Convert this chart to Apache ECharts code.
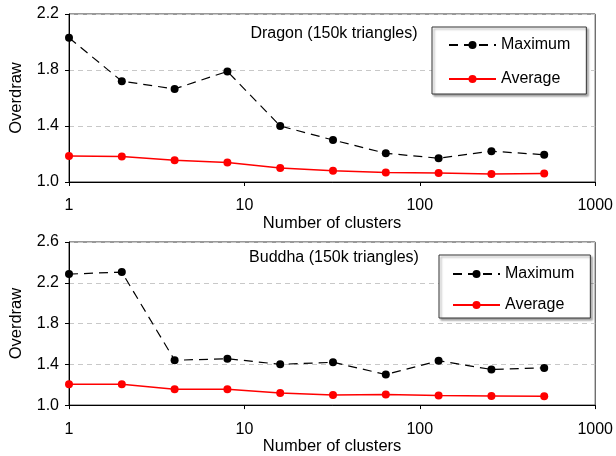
<!DOCTYPE html>
<html>
<head>
<meta charset="utf-8">
<script src="https://cdn.jsdelivr.net/npm/echarts@6/dist/echarts.min.js"></script>
<style>
  html, body { margin: 0; padding: 0; background: #fff; }
  #chart { width: 616px; height: 456px; }
</style>
</head>
<body>
<div id="chart"></div>
<script>
// number of clusters (x, log scale)
var clusters = [1, 2, 4, 8, 16, 32, 64, 128, 256, 512]

// Dragon (150k triangles)
var dragonMax = [2.03, 1.72, 1.665, 1.79, 1.40, 1.30, 1.205, 1.17, 1.22, 1.195]
var dragonAvg = [1.185, 1.182, 1.155, 1.14, 1.10, 1.08, 1.068, 1.065, 1.058, 1.06]

// Buddha (150k triangles)
var buddhaMax = [2.285, 2.305, 1.44, 1.455, 1.40, 1.42, 1.30, 1.435, 1.35, 1.365]
var buddhaAvg = [1.205, 1.205, 1.155, 1.155, 1.118, 1.10, 1.105, 1.093, 1.09, 1.087]

var titles = ['Dragon (150k triangles)', 'Buddha (150k triangles)']
var seriesNames = ['Maximum', 'Average']

var FONT = 'Liberation Sans'

function pairs (vals) {
  return clusters.map(function (c, i) { return [c, vals[i]] })
}

function xAxis (idx) {
  return {
    type: 'log',
    logBase: 10,
    min: 1,
    max: 1000,
    gridIndex: idx,
    name: 'Number of clusters',
    nameLocation: 'middle',
    nameGap: 26,
    nameTextStyle: { fontFamily: FONT, fontSize: 16.5, color: '#000' },
    axisLine: { lineStyle: { color: '#000', width: 1 } },
    axisTick: { length: 4, lineStyle: { color: '#000' } },
    minorTick: { show: false },
    splitLine: { show: false },
    axisLabel: {
      fontFamily: FONT, fontSize: 16, color: '#000', margin: 16,
      formatter: function (v) { return String(Math.round(v)) }
    }
  }
}

function yAxis (idx, max) {
  return {
    type: 'value',
    gridIndex: idx,
    min: 1.0,
    max: max,
    interval: 0.4,
    name: 'Overdraw',
    nameLocation: 'middle',
    nameGap: 44,
    nameTextStyle: { fontFamily: FONT, fontSize: 16.5, color: '#000' },
    axisLine: { show: true, lineStyle: { color: '#000', width: 1 } },
    axisTick: { show: true, length: 4, lineStyle: { color: '#000' } },
    splitLine: { show: true, lineStyle: { color: '#c8c8c8', type: [5, 4], width: 1 } },
    axisLabel: {
      fontFamily: FONT, fontSize: 16, color: '#000', margin: 10,
      formatter: function (v) { return v.toFixed(1) }
    }
  }
}

function legend (left, top, padding, gap) {
  return {
    orient: 'vertical',
    left: left,
    top: top,
    data: seriesNames,
    itemWidth: 47,
    itemHeight: 10,
    itemGap: gap,
    padding: padding,
    backgroundColor: '#fff',
    borderColor: '#333',
    borderWidth: 1,
    shadowColor: 'rgba(0,0,0,0.35)',
    shadowOffsetX: 2,
    shadowOffsetY: 2,
    shadowBlur: 2,
    textStyle: { fontFamily: FONT, fontSize: 16, color: '#000' }
  }
}

function maxSeries (idx, vals) {
  return {
    name: 'Maximum',
    type: 'line',
    xAxisIndex: idx,
    yAxisIndex: idx,
    data: pairs(vals),
    symbol: 'circle',
    symbolSize: 8,
    itemStyle: { color: '#000' },
    lineStyle: { color: '#000', width: 1.2, type: [9, 6] },
    animation: false
  }
}

function avgSeries (idx, vals) {
  return {
    name: 'Average',
    type: 'line',
    xAxisIndex: idx,
    yAxisIndex: idx,
    data: pairs(vals),
    symbol: 'circle',
    symbolSize: 8,
    itemStyle: { color: '#ff0000' },
    lineStyle: { color: '#ff0000', width: 1.5 },
    animation: false
  }
}

var myChart = echarts.init(document.getElementById('chart'))
var option = {
  animation: false,
  backgroundColor: '#fff',
  grid: [
    { left: 66, right: 18, top: 14, height: 168, show: true, borderColor: '#333', borderWidth: 1, backgroundColor: 'transparent' },
    { left: 66, right: 18, top: 242, height: 167, show: true, borderColor: '#333', borderWidth: 1, backgroundColor: 'transparent' }
  ],
  xAxis: [xAxis(0), xAxis(1)],
  yAxis: [yAxis(0, 2.2), yAxis(1, 2.6)],
  legend: [
    legend(432, 27, [10, 16, 7, 16], 18),
    legend(439, 255, [11, 16, 5, 13], 15)
  ],
  graphic: [
    { type: 'text', x: 334, y: 34, style: { text: titles[0], font: '16px "' + FONT + '"', fill: '#000', textAlign: 'center', textVerticalAlign: 'middle' } },
    { type: 'text', x: 334, y: 258, style: { text: titles[1], font: '16px "' + FONT + '"', fill: '#000', textAlign: 'center', textVerticalAlign: 'middle' } }
  ],
  series: [
    maxSeries(0, dragonMax),
    avgSeries(0, dragonAvg),
    maxSeries(1, buddhaMax),
    avgSeries(1, buddhaAvg)
  ]
}
myChart.setOption(option)
</script>
</body>
</html>
